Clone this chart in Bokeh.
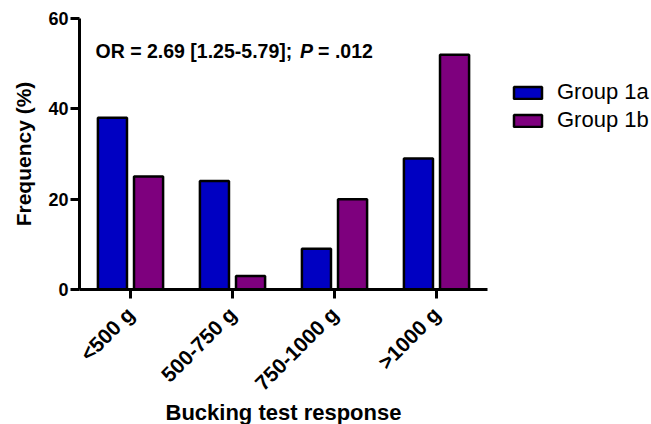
from math import pi
from bokeh.plotting import figure
from bokeh.models import (ColumnDataSource, FactorRange, Range1d, Legend,
                          LegendItem, Label, FixedTicker)
from bokeh.transform import dodge
from bokeh.embed import file_html
from bokeh.resources import INLINE

# ---- data ----
categories = ["<500 g", "500-750 g", "750-1000 g", ">1000 g"]
group_1a = [38, 24, 9, 29]
group_1b = [25, 3, 20, 52]
series_names = ["Group 1a", "Group 1b"]
y_ticks = [0, 20, 40, 60]
x_title = "Bucking test response"
y_title = "Frequency (%)"
stat_parts = ["OR = 2.69 [1.25-5.79];", "P", "= .012"]

FONT = "Liberation Sans"
BLUE = "#0000C2"
PURPLE = "#7E007E"

src = ColumnDataSource(dict(cat=categories, a=group_1a, b=group_1b))

p = figure(x_range=FactorRange(factors=categories, range_padding=0),
           y_range=Range1d(0, 60),
           frame_width=408, frame_height=271,
           output_backend="svg", toolbar_location=None,
           min_border_left=79, min_border_right=164,
           min_border_top=18, min_border_bottom=135)

r1 = p.vbar(x=dodge("cat", -0.177, range=p.x_range), top="a", width=0.285,
            source=src, fill_color=BLUE, line_color="black", line_width=2.5)
r2 = p.vbar(x=dodge("cat", 0.177, range=p.x_range), top="b", width=0.285,
            source=src, fill_color=PURPLE, line_color="black", line_width=2.5)

p.outline_line_color = None
p.xgrid.visible = False
p.ygrid.visible = False
p.background_fill_color = "white"
p.border_fill_color = "white"

for ax in (p.xaxis[0], p.yaxis[0]):
    ax.axis_line_width = 3
    ax.major_tick_line_width = 3
    ax.major_tick_out = 9
    ax.major_tick_in = 0
    ax.minor_tick_line_color = None
    ax.major_label_text_font = FONT
    ax.major_label_text_font_style = "bold"
    ax.major_label_text_color = "black"
    ax.axis_line_color = "black"
    ax.major_tick_line_color = "black"
    ax.axis_label_text_font = FONT
    ax.axis_label_text_font_style = "bold"
    ax.axis_label_text_color = "black"

p.yaxis.ticker = FixedTicker(ticks=y_ticks)
p.yaxis.major_label_text_font_size = "18px"
p.yaxis.major_label_standoff = 2
p.yaxis.axis_label = y_title
p.yaxis.axis_label_text_font_size = "21px"
p.yaxis.axis_label_standoff = 10

p.xaxis.major_label_orientation = pi / 4
p.xaxis.major_label_text_font_size = "21px"
p.xaxis.major_label_standoff = 12
p.xaxis.axis_label = x_title
p.xaxis.axis_label_text_font_size = "22px"
p.xaxis.axis_label_standoff = -6

# statistics annotation
p.add_layout(Label(x=0.157, y=52.8, text=stat_parts[0], text_font=FONT,
                   text_font_style="bold", text_font_size="19.5px",
                   text_baseline="alphabetic", text_color="black"))
p.add_layout(Label(x=2.162, y=52.8, text=stat_parts[1], text_font=FONT,
                   text_font_style="bold italic", text_font_size="19.5px",
                   text_baseline="alphabetic", text_color="black"))
p.add_layout(Label(x=2.339, y=52.8, text=stat_parts[2], text_font=FONT,
                   text_font_style="bold", text_font_size="19.5px",
                   text_baseline="alphabetic", text_color="black"))

legend = Legend(items=[LegendItem(label=series_names[0], renderers=[r1]),
                       LegendItem(label=series_names[1], renderers=[r2])],
                location="top_left", title=" ")
legend.title_text_font_size = "30px"
legend.title_standoff = 4
legend.label_text_font = FONT
legend.label_text_font_size = "22px"
legend.label_text_color = "black"
legend.glyph_width = 35
legend.glyph_height = 15
legend.label_standoff = 12
legend.label_height = 15
legend.spacing = 2
legend.padding = 0
legend.margin = 23
legend.border_line_color = None
legend.background_fill_alpha = 0
p.add_layout(legend, "right")

open("out.html", "w").write(file_html(p, INLINE))
